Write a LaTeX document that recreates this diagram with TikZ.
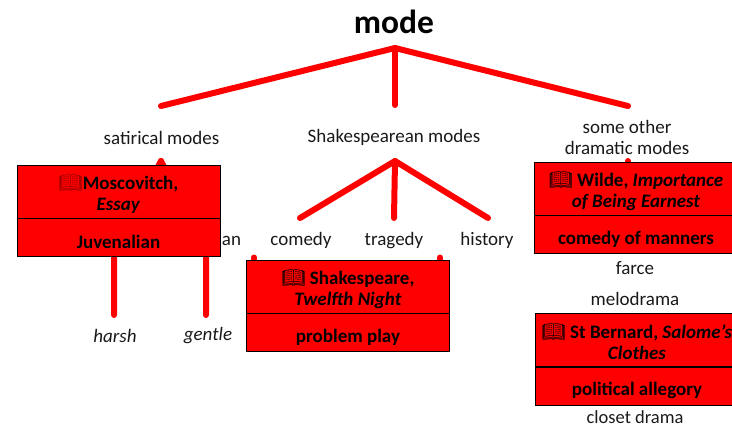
\documentclass[tikz,border=0pt]{standalone}
\usepackage{fontspec}
\setmainfont{Carlito}
\newfontfamily\emojifont{Noto Emoji}
\newcommand{\bookicon}{{\emojifont\symbol{"1F4D6}}}
\definecolor{boxred}{RGB}{255,0,0}
\definecolor{darkbook}{RGB}{150,0,0}
\tikzset{
  branch/.style={line width=6pt,boxred,line cap=round},
  label/.style={font=\fontsize{19}{21}\selectfont,align=center,inner sep=0pt,text=black!90},
  work/.style={draw=black,fill=boxred,line width=0.8pt,minimum width=203pt,minimum height=53pt,inner sep=0pt,align=center,font=\fontsize{19}{21}\selectfont\bfseries,text height=38pt,text depth=0pt},
  mode/.style={draw=black,fill=boxred,line width=0.8pt,minimum width=203pt,minimum height=38pt,inner sep=0pt,align=center,font=\fontsize{19}{21}\selectfont\bfseries,execute at begin node={\rule{0pt}{23pt}}},
}
\begin{document}
\begin{tikzpicture}[x=1pt,y=-1pt]
\useasboundingbox (0,0) rectangle (732,428);
\clip (0,0) rectangle (732,428);
\node [inner sep=0pt,font=\fontsize{33.5}{38}\selectfont\bfseries] (title) at (394,22) {mode};
% top level
\coordinate (top) at (395,48);
\coordinate (satend) at (161,106);
\coordinate (shakeend) at (395,105);
\coordinate (otherend) at (628,106);
\draw [branch] (top) -- (satend);
\draw [branch] (top) -- (shakeend);
\draw [branch] (top) -- (otherend);
\node [label] (satirical) at (161.5,137.5) {satirical modes};
\node [label] (shakespearean) at (394,137.5) {Shakespearean modes};
\node [label] (other) at (627,137) {some other\\dramatic modes};
% shakespearean modes
\coordinate (shaketop) at (395,161);
\coordinate (comend) at (300,218);
\coordinate (traend) at (394,218);
\coordinate (hisend) at (488,218);
\draw [branch] (shaketop) -- (comend);
\draw [branch] (shaketop) -- (traend);
\draw [branch] (shaketop) -- (hisend);
\node [label] (comedy) at (301,240.5) {comedy};
\node [label] (tragedy) at (394,240.5) {tragedy};
\node [label] (history) at (487,240.5) {history};
\node [label] (an) at (231.5,240.5) {an};
% stubs that the boxes cover
\coordinate (satapex) at (161,161);
\coordinate (harshbend) at (114,250);
\coordinate (gentlebend) at (206,250);
\coordinate (harshend) at (114,315);
\coordinate (gentleend) at (206,315);
\draw [branch] (satapex) -- (harshbend) -- (harshend);
\draw [branch] (satapex) -- (gentlebend) -- (gentleend);
\coordinate (stubatop) at (254,257.5);
\coordinate (stubabot) at (254,270);
\coordinate (stubbtop) at (440,257.5);
\coordinate (stubbbot) at (440,270);
\draw [branch] (stubatop) -- (stubabot);
\draw [branch] (stubbtop) -- (stubbbot);
\coordinate (wildetop) at (628,161);
\coordinate (wildebot) at (628,170);
\draw [branch] (wildetop) -- (wildebot);
\node [label,font=\fontsize{19}{21}\selectfont\itshape] (harsh) at (115,336) {harsh};
\node [label,font=\fontsize{19}{21}\selectfont\itshape] (gentle) at (208,336) {gentle};
% boxes
\node [work] (moscovitch) at (118.5,191.5) {{\color{darkbook}\bookicon}Moscovitch,\\\textit{Essay}};
\node [mode] (juvenalian) at (118.5,237) {Juvenalian};
\node [work] (shakespeare) at (348,286.5) {\bookicon{} Shakespeare,\\\textit{Twelfth Night}};
\node [mode] (problem) at (348,332) {problem play};
\node [work] (wilde) at (636,188.5) {\bookicon{} Wilde, \textit{Importance}\\\textit{of Being Earnest}};
\node [mode] (manners) at (636,234) {comedy of manners};
\node [work] (bernard) at (637,340) {\bookicon{} St Bernard, \textit{Salome's}\\\textit{Clothes}};
\node [mode] (allegory) at (637,386) {political allegory};
\node [label] (farce) at (635,268.5) {farce};
\node [label] (melodrama) at (635,298.5) {melodrama};
\node [label,font=\fontsize{18.5}{21}\selectfont] (closet) at (635,417.5) {closet drama};
\end{tikzpicture}
\end{document}
